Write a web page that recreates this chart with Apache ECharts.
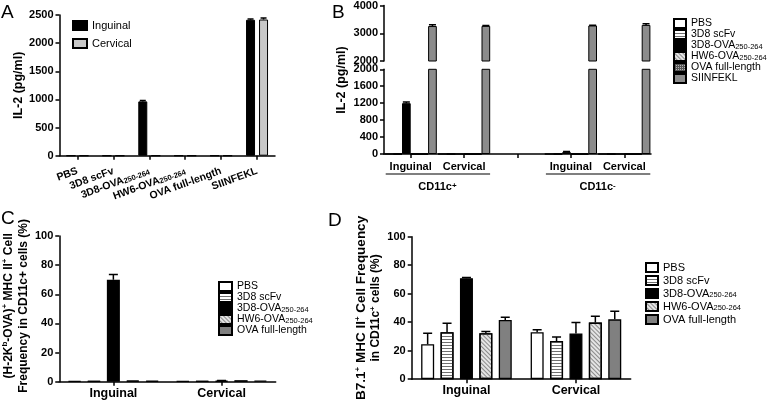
<!DOCTYPE html>
<html><head><meta charset="utf-8">
<script src="https://cdn.jsdelivr.net/npm/echarts@6/dist/echarts.min.js"></script>
<style>html,body{margin:0;padding:0;background:#fff}#c{width:778px;height:402px}</style>
</head><body><div id="c"></div>
<script>
// ---------------- Panel A ----------------
const aCategories = ['PBS', '3D8 scFv', '3D8-OVA250-264', 'HW6-OVA250-264', 'OVA full-length', 'SIINFEKL'];
const aSeriesNames = ['Inguinal', 'Cervical'];
const aInguinal    = [0, 0, 965, 0, 0, 2415];
const aInguinalErr = [0, 0, 15, 0, 0, 12];
const aCervical    = [0, 0, 0, 0, 0, 2420];
const aCervicalErr = [0, 0, 0, 0, 0, 25];

// ---------------- Panel B ----------------
const bCategories = ['Inguinal', 'Cervical', '', 'Inguinal', 'Cervical'];
const bGroups = ['CD11c+', 'CD11c-'];
const bSeriesNames = ['PBS', '3D8 scFv', '3D8-OVA250-264', 'HW6-OVA250-264', 'OVA full-length', 'SIINFEKL'];
const bPBS         = [0, 0, null, 0, 0];
const bScFv        = [0, 0, null, 0, 0];
const b3D8OVA      = [1200, 0, null, 45, 0];
const b3D8OVAErr   = [30, 0, null, 12, 0];
const bHW6         = [0, 0, null, 0, 0];
const bOVA         = [0, 0, null, 0, 0];
const bSIINFEKL    = [3260, 3265, null, 3280, 3300];
const bSIINFEKLErr = [50, 15, null, 12, 40];
const bZeroErr     = [0, 0, null, 0, 0];

// ---------------- Panel C ----------------
const cdCategories = ['Inguinal', 'Cervical'];
const cdSeriesNames = ['PBS', '3D8 scFv', '3D8-OVA250-264', 'HW6-OVA250-264', 'OVA full-length'];
const cPBS     = [0.5, 0.4];
const cScFv    = [0.4, 0.4];
const c3D8OVA  = [70, 0.6];
const cHW6     = [0.7, 0.9];
const cOVA     = [0.6, 0.7];
const cPBSErr    = [0, 0];
const cScFvErr   = [0, 0];
const c3D8OVAErr = [3.5, 0.2];
const cHW6Err    = [0, 0];
const cOVAErr    = [0, 0];

// ---------------- Panel D ----------------
const dPBS     = [24.5, 33.0];
const dScFv    = [33.0, 26.8];
const d3D8OVA  = [70.9, 32.1];
const dHW6     = [32.3, 39.7];
const dOVA     = [41.6, 42.0];
const dPBSErr    = [7.8, 1.6];
const dScFvErr   = [6.3, 2.8];
const d3D8OVAErr = [0.5, 7.6];
const dHW6Err    = [1.2, 4.4];
const dOVAErr    = [1.8, 5.6];

// ---------------- styling ----------------
const FONT = 'Liberation Sans';
const SUB = '250-264';
function fmtSub(s) { return s.replace(SUB, '{sub|' + SUB + '}'); }
function stripPrefix(n) { return n.slice(n.indexOf(':') + 1); }

const decalH = { symbol: 'rect', symbolSize: 1, dashArrayX: [1, 0], dashArrayY: [1, 2], color: '#707070' };
const decalD = { symbol: 'rect', symbolSize: 1, dashArrayX: [1, 0], dashArrayY: [1, 2], rotation: Math.PI / 4, color: '#8a8a8a' };
const decalX = { symbol: 'rect', symbolSize: 1, dashArrayX: [1, 1], dashArrayY: [1, 1], color: '#b5b5b5' };

const baseStyle = {
  'PBS': { color: '#ffffff' },
  '3D8 scFv': { color: '#ffffff', decal: decalH },
  '3D8-OVA250-264': { color: '#000000' },
  'HW6-OVA250-264': { color: '#e4e4e4', decal: decalD },
  'OVA full-length': { color: '#808080' },
  'SIINFEKL': { color: '#8c8c8c' },
  'Inguinal': { color: '#000000' },
  'Cervical': { color: '#c8c8c8' }
};
const bStyleOverride = { 'OVA full-length': { color: '#555555', decal: decalX } };

const subRich = { sub: { fontSize: 7.5, lineHeight: 5, verticalAlign: 'bottom', fontFamily: FONT } };
const supRich = { sup: { fontSize: 8, lineHeight: 5, verticalAlign: 'top', fontFamily: FONT, fontWeight: 'bold' } };

function axisLineStyle() { return { show: true, lineStyle: { color: '#000', width: 1.5 } }; }
function axisTickStyle(align) { return { show: true, length: 4, alignWithLabel: !!align, lineStyle: { color: '#000', width: 1.5 } }; }

function yAxisCfg(grid, min, max, interval) {
  return {
    gridIndex: grid, type: 'value', min, max, interval,
    axisLine: axisLineStyle(), axisTick: axisTickStyle(), splitLine: { show: false },
    axisLabel: { color: '#000', fontFamily: FONT, fontWeight: 'bold', fontSize: 11, margin: 6, formatter: v => String(v) }
  };
}
function xAxisCfg(grid, data, labelOpts) {
  return {
    gridIndex: grid, type: 'category', data,
    axisLine: axisLineStyle(), axisTick: axisTickStyle(true), splitLine: { show: false },
    axisLabel: Object.assign({ color: '#000', fontFamily: FONT, fontWeight: 'bold', interval: 0 }, labelOpts)
  };
}

function barSeries(name, xi, yi, data, w, gapPct, style, bw) {
  return {
    type: 'bar', name, xAxisIndex: xi, yAxisIndex: yi, data,
    barWidth: w, barGap: gapPct, clip: true, z: 2,
    itemStyle: Object.assign({ borderColor: '#000', borderWidth: bw }, style)
  };
}
function errSeries(xi, yi, vals, errs, offset, capHalf, keep) {
  const data = [];
  vals.forEach((v, i) => {
    if (v != null && errs[i] > 0 && keep(v)) data.push([i, v, errs[i]]);
  });
  return {
    type: 'custom', xAxisIndex: xi, yAxisIndex: yi, silent: true, z: 5, clip: true,
    data, encode: { x: 0, y: 1 },
    renderItem: function (params, api) {
      const i = api.value(0), v = api.value(1), e = api.value(2);
      const p0 = api.coord([i, v]);
      const p1 = api.coord([i, v + e]);
      const x = p0[0] + offset;
      const st = { stroke: '#000', lineWidth: 1.5, fill: null };
      return { type: 'group', children: [
        { type: 'line', shape: { x1: x, y1: p0[1], x2: x, y2: p1[1] }, style: st },
        { type: 'line', shape: { x1: x - capHalf, y1: p1[1], x2: x + capHalf, y2: p1[1] }, style: st }
      ] };
    }
  };
}
function offsets(n, w, gapPx) {
  const out = [];
  for (let i = 0; i < n; i++) out.push((i - (n - 1) / 2) * (w + gapPx));
  return out;
}

const series = [];
const all = () => true;

// Panel A (grid 0)
{
  const w = 9, g = 4, off = offsets(2, w, g);
  const vals = [aInguinal, aCervical], errs = [aInguinalErr, aCervicalErr];
  aSeriesNames.forEach((n, k) => {
    series.push(barSeries('A:' + n, 0, 0, vals[k], w, (g / w * 100) + '%', baseStyle[n], 1));
    series.push(errSeries(0, 0, vals[k], errs[k], off[k], 3, all));
  });
}
// Panel B (grid 1 upper, grid 2 lower)
{
  const w = 8.7, g = 0, off = offsets(6, w, g);
  const vals = [bPBS, bScFv, b3D8OVA, bHW6, bOVA, bSIINFEKL];
  const errs = [bZeroErr, bZeroErr, b3D8OVAErr, bZeroErr, bZeroErr, bSIINFEKLErr];
  bSeriesNames.forEach((n, k) => {
    const st = bStyleOverride[n] || baseStyle[n];
    series.push(barSeries('B:' + n, 2, 2, vals[k], w, '0%', st, 1));
    series.push(barSeries('Bup:' + n, 1, 1, vals[k], w, '0%', st, 1));
    series.push(errSeries(2, 2, vals[k], errs[k], off[k], 3.5, v => v < 2000));
    series.push(errSeries(1, 1, vals[k], errs[k], off[k], 3.5, v => v >= 2000));
  });
}
// Panel C (grid 3)
{
  const w = 13, g = 6.4, off = offsets(5, w, g);
  const vals = [cPBS, cScFv, c3D8OVA, cHW6, cOVA];
  const errs = [cPBSErr, cScFvErr, c3D8OVAErr, cHW6Err, cOVAErr];
  cdSeriesNames.forEach((n, k) => {
    series.push(barSeries('C:' + n, 3, 3, vals[k], w, (g / w * 100) + '%', baseStyle[n], 1.3));
    series.push(errSeries(3, 3, vals[k], errs[k], off[k], 4.5, all));
  });
}
// Panel D (grid 4)
{
  const w = 13, g = 6.4, off = offsets(5, w, g);
  const vals = [dPBS, dScFv, d3D8OVA, dHW6, dOVA];
  const errs = [dPBSErr, dScFvErr, d3D8OVAErr, dHW6Err, dOVAErr];
  cdSeriesNames.forEach((n, k) => {
    series.push(barSeries('D:' + n, 4, 4, vals[k], w, (g / w * 100) + '%', baseStyle[n], 1.3));
    series.push(errSeries(4, 4, vals[k], errs[k], off[k], 4.5, all));
  });
}

function legendCfg(prefix, names, left, top, iw, ih, gap, fs) {
  return {
    orient: 'vertical', left, top, itemWidth: iw, itemHeight: ih, itemGap: gap,
    icon: 'rect', selectedMode: false, padding: 0,
    data: names.map(n => prefix + n),
    formatter: n => fmtSub(stripPrefix(n)),
    textStyle: { fontFamily: FONT, fontSize: fs, color: '#000', rich: subRich }
  };
}

const dNameRich = Object.assign({
  big: { fontSize: 13.5, fontWeight: 'bold', fontFamily: FONT, lineHeight: 15 }
}, supRich);

const chart = echarts.init(document.getElementById('c'), null, { renderer: 'canvas' });
const option = {
  backgroundColor: '#ffffff',
  animation: false,
  grid: [
    { left: 59.5, top: 15, width: 215.5, height: 140.7 },
    { left: 384, top: 5, width: 267, height: 56 },
    { left: 384, top: 69.3, width: 267, height: 84.7 },
    { left: 56.7, top: 236, width: 219, height: 145.7 },
    { left: 411.7, top: 236.7, width: 219, height: 144.3 }
  ],
  xAxis: [
    xAxisCfg(0, aCategories, { rotate: 20, fontSize: 10.5, margin: 15, formatter: fmtSub, rich: subRich }),
    Object.assign(xAxisCfg(1, bCategories, {}), { show: false }),
    xAxisCfg(2, bCategories, { fontSize: 11, margin: 7 }),
    xAxisCfg(3, cdCategories, { fontSize: 12.5, margin: 5 }),
    xAxisCfg(4, cdCategories, { fontSize: 12.5, margin: 5 })
  ],
  yAxis: [
    Object.assign(yAxisCfg(0, 0, 2500, 500), {
      name: 'IL-2 (pg/ml)', nameLocation: 'middle', nameGap: 33, nameRotate: 90,
      nameTextStyle: { fontFamily: FONT, fontWeight: 'bold', fontSize: 12.5, color: '#000', padding: [0, 0, 0, 0] }
    }),
    yAxisCfg(1, 2000, 4000, 1000),
    yAxisCfg(2, 0, 2000, 400),
    Object.assign(yAxisCfg(3, 0, 100, 20), {
      name: '(H-2K{sup|b}-OVA){sup|+} MHC II{sup|+} Cell\nFrequency in CD11c+ cells (%)',
      nameLocation: 'middle', nameGap: 12, nameRotate: 90,
      nameTextStyle: { fontFamily: FONT, fontWeight: 'bold', fontSize: 12, color: '#000', lineHeight: 15, padding: [0, 0, 0, 6], rich: supRich }
    }),
    Object.assign(yAxisCfg(4, 0, 100, 20), {
      name: '{big|B7.1}{sup|+}{big| MHC II}{sup|+}{big| Cell Frequency}\nin CD11c{sup|+} cells (%)',
      nameLocation: 'middle', nameGap: 12, nameRotate: 90,
      nameTextStyle: { fontFamily: FONT, fontWeight: 'bold', fontSize: 12, color: '#000', lineHeight: 15, padding: [0, 0, 0, 0], rich: dNameRich }
    })
  ],
  legend: [
    legendCfg('A:', aSeriesNames, 72, 20, 14, 9, 7, 11),
    legendCfg('B:', bSeriesNames, 673, 18, 12, 9, 0, 10.5),
    legendCfg('C:', cdSeriesNames, 218, 281, 13, 9, 0, 10.5),
    legendCfg('D:', cdSeriesNames, 645, 262, 12, 9, 2, 11)
  ],
  series
};
chart.setOption(option);

// Annotations placed from the axis scale of panel B
const px = i => chart.convertToPixel({ xAxisIndex: 2 }, i);
const yBase = chart.convertToPixel({ yAxisIndex: 2 }, 0);
const graphics = [
  { type: 'text', left: 1, top: 3, style: { text: 'A', font: '19px "Liberation Sans"', fill: '#000' } },
  { type: 'text', left: 332, top: 3, style: { text: 'B', font: '19px "Liberation Sans"', fill: '#000' } },
  { type: 'text', left: 1, top: 209, style: { text: 'C', font: '19px "Liberation Sans"', fill: '#000' } },
  { type: 'text', left: 328, top: 211, style: { text: 'D', font: '19px "Liberation Sans"', fill: '#000' } },
  { type: 'text', x: 342, y: 80, rotation: Math.PI / 2,
    style: { text: 'IL-2 (pg/ml)', font: 'bold 12.5px "Liberation Sans"', fill: '#000', textAlign: 'center', textVerticalAlign: 'middle' } }
];
bGroups.forEach((g, k) => {
  const x0 = px(k * 3), x1 = px(k * 3 + 1);
  const label = g.replace(/([+-])$/, '{sup|$1}');
  graphics.push({ type: 'line', shape: { x1: x0 - 25, y1: yBase + 20, x2: x1 + 26, y2: yBase + 20 }, style: { stroke: '#000', lineWidth: 1.2 } });
  graphics.push({ type: 'text', x: (x0 + x1) / 2, y: yBase + 33,
    style: { text: label, font: 'bold 11px "Liberation Sans"', fill: '#000', textAlign: 'center', textVerticalAlign: 'middle', rich: supRich } });
});
chart.setOption({ graphic: graphics });
</script></body></html>
